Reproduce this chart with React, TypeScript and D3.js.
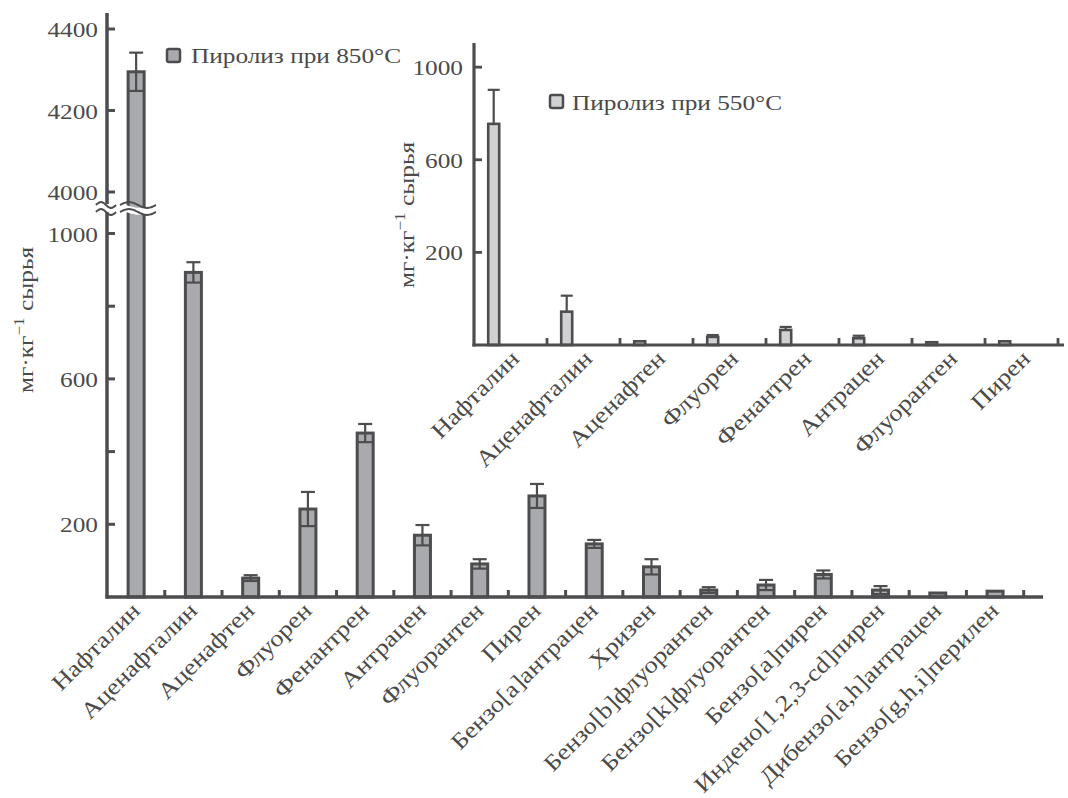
import React from "react";
import * as d3 from "d3";

// main chart: 850 °C
const compounds = [
  "Нафталин",
  "Аценафталин",
  "Аценафтен",
  "Флуорен",
  "Фенантрен",
  "Антрацен",
  "Флуорантен",
  "Пирен",
  "Бензо[a]антрацен",
  "Хризен",
  "Бензо[b]флуорантен",
  "Бензо[k]флуорантен",
  "Бензо[a]пирен",
  "Индено[1,2,3-cd]пирен",
  "Дибензо[a,h]антрацен",
  "Бензо[g,h,i]перилен",
];
const values850 = [4295, 893, 52, 242, 451, 170, 91, 278, 146, 83, 19, 33, 62, 19, 11, 16];
const errors850 = [47, 28, 8, 47, 25, 28, 13, 33, 11, 21, 8, 14, 11, 11, 0, 0];

// inset: 550 °C
const compounds550 = [
  "Нафталин",
  "Аценафталин",
  "Аценафтен",
  "Флуорен",
  "Фенантрен",
  "Антрацен",
  "Флуорантен",
  "Пирен",
];
const values550 = [955, 144, 16, 35, 65, 29, 12, 16];
const errors550 = [147, 69, 0, 8, 13, 11, 0, 0];

const lowTicks = [200, 400, 600, 800, 1000];
const lowLabeled = [200, 600, 1000];
const highTicks = [4000, 4200, 4400];
const insetTicks = [400, 800, 1200];
const insetTickLabels = ["200", "600", "1000"];

const W = 1068;
const H = 798;
const AX = "#4d4d4f";
const TXT = "#4a4a4a";
const FILL850 = "#a9aaad";
const FILL550 = "#d0d1d3";
const FONT = "'Liberation Serif', 'Times New Roman', serif";
const SX = 1.15; // the source font runs a bit wide

function T({ x, y, rot = 0, anchor = "start", size = 22, children }: any) {
  return (
    <g transform={`translate(${x},${y}) rotate(${rot}) scale(${SX},1)`}>
      <text textAnchor={anchor} fontSize={size} fontFamily={FONT} fill={TXT}>
        {children}
      </text>
    </g>
  );
}

function wavePath(x0: number, x1: number, y: number, amp: number) {
  const pts = d3.range(0, 21).map((i) => {
    const t = i / 20;
    return [x0 + (x1 - x0) * t, y - amp * Math.sin(t * Math.PI * 2)] as [number, number];
  });
  return d3.line().curve(d3.curveBasis)(pts)!;
}

export default function App() {
  // main scales
  const x = d3.scaleBand().domain(compounds).range([107.5, 1023.7]);
  const yLow = d3.scaleLinear().domain([0, 1000]).range([597, 233.5]);
  const yHigh = d3.scaleLinear().domain([4000, 4400]).range([192, 29]);
  const y = (v: number) => (v >= 2000 ? yHigh(v) : yLow(v));
  const axisX = 107;
  const base = yLow(0);
  const bw = 16;

  // inset scales
  const xi = d3.scaleBand().domain(compounds550).range([474, 1058]);
  const yi = d3.scaleLinear().domain([0, 1300]).range([345, 44]);
  const ibw = 11;
  const iBase = yi(0);

  const breakTop = 205;
  const breakBot = 212;

  return (
    <svg
      width={W}
      height={H}
      style={{ position: "absolute", left: 0, top: 0, background: "#fff" }}
    >
      {/* main bars */}
      {compounds.map((c, i) => {
        const cx = x(c)! + x.bandwidth() / 2;
        const v = values850[i];
        const e = errors850[i];
        return (
          <g key={c}>
            <rect
              x={cx - bw / 2}
              y={y(v)}
              width={bw}
              height={base - y(v)}
              fill={FILL850}
              stroke={AX}
              strokeWidth={3}
            />
            {e > 0 && (
              <g stroke={AX} strokeWidth={2.2}>
                <line x1={cx} x2={cx} y1={y(v - e)} y2={y(v + e)} />
                <line x1={cx - 7} x2={cx + 7} y1={y(v + e)} y2={y(v + e)} />
                <line x1={cx - 7} x2={cx + 7} y1={y(v - e)} y2={y(v - e)} />
              </g>
            )}
          </g>
        );
      })}

      {/* axis break */}
      <path
        d={`${wavePath(95, 157, breakTop, 3)} L157,${breakBot} ${wavePath(157, 95, breakBot, -3).slice(1).replace(/^/, "L")} Z`}
        fill="#fff"
        stroke="none"
      />
      <g fill="none" stroke={AX} strokeWidth={2}>
        <path d={wavePath(96, 116, breakTop, 3)} />
        <path d={wavePath(96, 116, breakBot, 3)} />
        <path d={wavePath(120, 156, breakTop, 3)} />
        <path d={wavePath(120, 156, breakBot, 3)} />
      </g>

      {/* main axes */}
      <g stroke={AX} strokeWidth={3.5} fill="none">
        <line x1={axisX} x2={axisX} y1={base + 1.5} y2={breakBot} />
        <line x1={axisX} x2={axisX} y1={breakTop - 1} y2={13} />
        <line x1={axisX - 1.5} x2={1043} y1={base} y2={base} />
      </g>
      <g stroke={AX} strokeWidth={3}>
        {lowTicks.map((t) => (
          <line key={t} x1={axisX} x2={axisX + 8} y1={yLow(t)} y2={yLow(t)} />
        ))}
        {highTicks.map((t) => (
          <line key={t} x1={axisX} x2={axisX + 8} y1={yHigh(t)} y2={yHigh(t)} />
        ))}
        {compounds.map((c) => (
          <line key={c} x1={x(c)! + x.bandwidth()} x2={x(c)! + x.bandwidth()} y1={base} y2={base - 7} />
        ))}
      </g>
      {lowLabeled.map((t) => (
        <T key={t} x={98} y={yLow(t) + 8} anchor="end" size={22}>
          {t}
        </T>
      ))}
      {highTicks.map((t) => (
        <T key={t} x={98} y={yHigh(t) + 8} anchor="end" size={22}>
          {t}
        </T>
      ))}
      {compounds.map((c) => (
        <T key={c} x={x(c)! + x.bandwidth() / 2 + 5} y={base + 15} rot={-45} anchor="end" size={23}>
          {c}
        </T>
      ))}
      <T x={33} y={320} rot={-90} anchor="middle" size={22}>
        мг·кг<tspan dy={-9} fontSize={15}>−1</tspan>
        <tspan dy={9}> сырья</tspan>
      </T>

      {/* main legend */}
      <rect x={167} y={49} width={13} height={13} rx={2} fill={FILL850} stroke={AX} strokeWidth={2.5} />
      <T x={191} y={63} size={22}>
        Пиролиз при 850°C
      </T>

      {/* inset bars */}
      {compounds550.map((c, i) => {
        const cx = xi(c)! + xi.bandwidth() * 0.27;
        const v = values550[i];
        const e = errors550[i];
        return (
          <g key={c}>
            <rect
              x={cx - ibw / 2}
              y={yi(v)}
              width={ibw}
              height={iBase - yi(v)}
              fill={FILL550}
              stroke={AX}
              strokeWidth={2.6}
            />
            {e > 0 && (
              <g stroke={AX} strokeWidth={2.2}>
                <line x1={cx} x2={cx} y1={yi(v)} y2={yi(v + e)} />
                <line x1={cx - 6} x2={cx + 6} y1={yi(v + e)} y2={yi(v + e)} />
              </g>
            )}
          </g>
        );
      })}

      {/* inset axes */}
      <g stroke={AX} strokeWidth={3.2} fill="none">
        <line x1={474} x2={474} y1={iBase + 1.5} y2={43} />
        <line x1={472.5} x2={1064} y1={iBase} y2={iBase} />
      </g>
      <g stroke={AX} strokeWidth={2.8}>
        {insetTicks.map((t) => (
          <line key={t} x1={474} x2={482} y1={yi(t)} y2={yi(t)} />
        ))}
        {compounds550.map((c) => (
          <line key={c} x1={xi(c)! + xi.bandwidth()} x2={xi(c)! + xi.bandwidth()} y1={iBase} y2={iBase - 7} />
        ))}
      </g>
      {insetTicks.map((t, i) => (
        <T key={t} x={463} y={yi(t) + 8} anchor="end" size={22}>
          {insetTickLabels[i]}
        </T>
      ))}
      {compounds550.map((c) => (
        <T key={c} x={xi(c)! + xi.bandwidth() / 2 + 10} y={iBase + 15} rot={-45} anchor="end" size={23}>
          {c}
        </T>
      ))}
      <T x={414} y={215} rot={-90} anchor="middle" size={22}>
        мг·кг<tspan dy={-9} fontSize={15}>−1</tspan>
        <tspan dy={9}> сырья</tspan>
      </T>

      {/* inset legend */}
      <rect x={550} y={95} width={13} height={13} rx={2} fill={FILL550} stroke={AX} strokeWidth={2.5} />
      <T x={572} y={110} size={22}>
        Пиролиз при 550°C
      </T>
    </svg>
  );
}
